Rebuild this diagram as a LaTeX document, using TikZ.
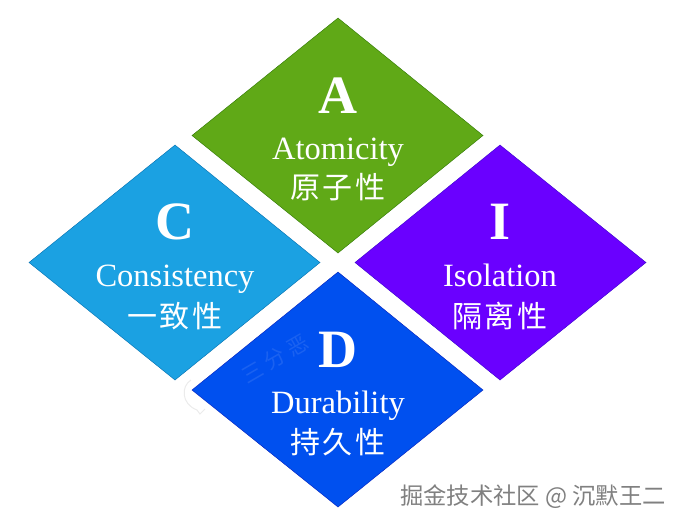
\documentclass[tikz,border=0pt]{standalone}
\usepackage{fontspec}
\setmainfont{Liberation Serif}
\newfontfamily\cjk[LetterSpace=8]{Noto Sans CJK SC}
\newfontfamily\faintfont[LetterSpace=25]{Noto Sans CJK SC}
\newfontfamily\markfont{Noto Sans CJK SC}
\definecolor{agreen}{HTML}{60A917}
\definecolor{agreenline}{HTML}{2D7600}
\definecolor{cblue}{HTML}{1BA1E2}
\definecolor{cblueline}{HTML}{006EAF}
\definecolor{ipurple}{HTML}{6A00FF}
\definecolor{ipurpleline}{HTML}{3700CC}
\definecolor{dblue}{HTML}{0050EF}
\definecolor{dblueline}{HTML}{001DBC}
\tikzset{
  letter/.style={text=white,inner sep=0pt,font=\fontsize{54}{54}\selectfont\bfseries},
  enname/.style={text=white,inner sep=0pt,anchor=base,font=\fontsize{32.5}{32.5}\selectfont},
  cnname/.style={text=white,inner sep=0pt,font=\fontsize{30}{30}\selectfont\cjk},
}
\begin{document}
\begin{tikzpicture}[x=1pt,y=-1pt]
          \useasboundingbox (0, 0) rectangle (679, 528);

          % Diamonds
          \draw [agreenline, fill=agreen] (338, 18) -- (483, 135.5) -- (338, 253) -- (192, 135.5) -- cycle;
          \draw [cblueline, fill=cblue] (175, 145) -- (320, 262.5) -- (175, 380) -- (29, 262.5) -- cycle;
          \draw [ipurpleline, fill=ipurple] (500, 145) -- (646, 262.5) -- (500, 380) -- (355, 262.5) -- cycle;
          \draw [dblueline, fill=dblue] (338, 272) -- (483, 390) -- (338, 507) -- (192, 390) -- cycle;

          % Faint marks
          \node (markd) [rotate=30, text=white, opacity=0.1, inner sep=0pt,
            font=\fontsize{21}{21}\selectfont\faintfont] at (275, 359) {三分恶};
          \draw [black!8, line width=1pt] (191, 380) .. controls (181, 386) and (181, 404) .. (197, 410)
            -- (200, 414) -- (205, 409);

          % Labels
          \node (a) [letter] at (338, 96) {A};
          \node (atext) [enname] at (338, 159) {Atomicity};
          \node (acn) [cnname] at (338, 187.5) {原子性};
          \node (c) [letter] at (175, 222) {C};
          \node (ctext) [enname] at (175, 286) {Consistency};
          \node (ccn) [cnname] at (175, 316) {一致性};
          \node (i) [letter] at (500, 222) {I};
          \node (itext) [enname] at (500, 286) {Isolation};
          \node (icn) [cnname] at (500, 316) {隔离性};
          \node (d) [letter] at (338, 350) {D};
          \node (dtext) [enname] at (338, 413) {Durability};
          \node (dcn) [cnname] at (338, 442) {持久性};

          % Watermark
          \node (mark) [text=black!50, inner sep=0pt, anchor=east,
            font=\fontsize{23.3}{23.3}\selectfont\markfont] at (666, 497) {掘金技术社区 @ 沉默王二};
        \end{tikzpicture}
\end{document}
